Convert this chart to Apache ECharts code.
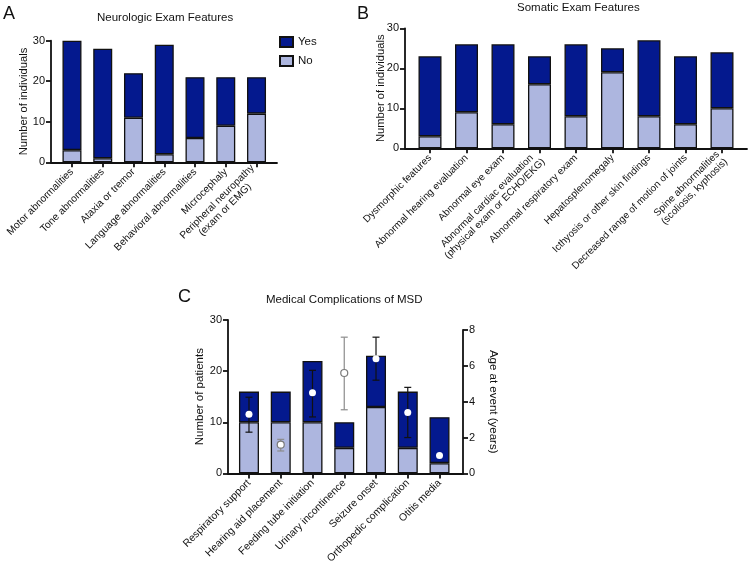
<!DOCTYPE html>
<html>
<head>
<meta charset="utf-8">
<script src="https://cdn.jsdelivr.net/npm/echarts@6/dist/echarts.min.js"></script>
<style>
html, body { margin: 0; padding: 0; background: #fff; }
#chart { width: 750px; height: 567px; }
</style>
</head>
<body>
<div id="chart"></div>
<script>
const FONT = '"Liberation Sans", Arial, Helvetica, sans-serif';
const DARK = '#04198e';
const LIGHT = '#adb6df';
const INK = '#111';

// A - neurologic exam
const neuroCats = ['Motor abnormalities', 'Tone abnormalities', 'Ataxia or tremor', 'Language abnormalities',
  'Behavioral abnormalities', 'Microcephaly', 'Peripheral neuropathy\n(exam or EMG)'];
const neuroYes = [27, 27, 11, 27, 15, 12, 9];
const neuroNo = [3, 1, 11, 2, 6, 9, 12];

// B - somatic exam
const somaticCats = ['Dysmorphic features', 'Abnormal hearing evaluation', 'Abnormal eye exam',
  'Abnormal cardiac evaluation\n(physical exam or ECHO/EKG)', 'Abnormal respiratory exam', 'Hepatosplenomegaly',
  'Icthyosis or other skin findings', 'Decreased range of motion of joints', 'Spine abnormalities\n(scoliosis, kyphosis)'];
const somaticYes = [20, 17, 20, 7, 18, 6, 19, 17, 14];
const somaticNo = [3, 9, 6, 16, 8, 19, 8, 6, 10];

// C - medical complications
const complCats = ['Respiratory support', 'Hearing aid placement', 'Feeding tube initiation', 'Urinary incontinence',
  'Seizure onset', 'Orthopedic complication', 'Otitis media'];
const complYes = [6, 6, 12, 5, 10, 11, 9];
const complNo = [10, 10, 10, 5, 13, 5, 2];
const ageMean = [3.3, 1.6, 4.5, 5.6, 6.4, 3.4, 1.0];
const ageLow = [2.3, 1.25, 3.15, 3.55, 5.2, 2.0, null];
const ageHigh = [4.25, 1.9, 5.75, 7.6, 7.6, 4.8, null];
const ageHollow = [false, true, false, true, false, false, false];

const countTicks = [0, 10, 20, 30];
const ageTicks = [0, 2, 4, 6, 8];

const chart = echarts.init(document.getElementById('chart'));

const lineStyle = { color: INK, width: 1.8 };

const labelFmt = v => v.split('\n').map(s => '{c|' + s + '}').join('\n');

const catAxis = (gridIndex, data, fontSize) => ({
  type: 'category', gridIndex, data,
  axisLine: { show: false },
  axisTick: { show: true, alignWithLabel: true, length: 5, lineStyle },
  axisLabel: {
    rotate: 45, margin: 8, interval: 0, color: INK, fontFamily: FONT, fontSize,
    formatter: labelFmt,
    rich: { c: { align: 'center', fontFamily: FONT, fontSize, color: INK, lineHeight: fontSize + 1 } }
  },
  splitLine: { show: false }
});

const lineAxis = gridIndex => ({
  type: 'value', gridIndex, min: 0, max: 1,
  axisLine: { show: true, lineStyle },
  axisTick: { show: false }, axisLabel: { show: false }, splitLine: { show: false }
});

const valAxis = (gridIndex, ticks, offset, name, nameSize, nameGap, position) => ({
  type: 'value', gridIndex, position: position || 'left', offset,
  min: ticks[0], max: ticks[ticks.length - 1], interval: ticks[1] - ticks[0],
  axisLine: { show: true, lineStyle },
  axisTick: { show: true, length: 5, lineStyle },
  axisLabel: { color: INK, fontFamily: FONT, fontSize: 11, margin: 6 },
  splitLine: { show: false },
  name, nameLocation: 'middle', nameGap, nameMoveOverlap: false,
  nameRotate: position === 'right' ? -90 : 90,
  nameTextStyle: { color: INK, fontFamily: FONT, fontSize: nameSize }
});

const hidden = gridIndex => ({ type: 'value', gridIndex, show: false, min: 0, max: 1 });

const barItem = color => ({ color, borderColor: INK, borderWidth: 1.3 });

const stacked = (name, stack, xi, data, color, width) => ({
  name, type: 'bar', stack, xAxisIndex: xi, yAxisIndex: xi, data, barWidth: width,
  itemStyle: barItem(color), emphasis: { disabled: true }
});

const titleText = (text, left, top, fontSize) => ({
  text, left, top, padding: 0,
  textStyle: { fontFamily: FONT, fontSize, fontWeight: 'normal', color: INK }
});

chart.setOption({
  animation: false,
  backgroundColor: '#fff',
  title: [
    titleText('A', 3, 5, 18),
    titleText('Neurologic Exam Features', 97, 12, 11.5),
    titleText('B', 357, 5, 18),
    titleText('Somatic Exam Features', 517, 2, 11.5),
    titleText('C', 178, 288, 18),
    titleText('Medical Complications of MSD', 266, 294, 11.5)
  ],
  legend: {
    data: ['Yes', 'No'], orient: 'vertical', left: 274, top: 31,
    itemWidth: 13, itemHeight: 10, itemGap: 7, icon: 'rect',
    textStyle: { fontFamily: FONT, fontSize: 11.5, color: INK },
    selectedMode: false
  },
  grid: [
    { left: 56.6, top: 40.7, width: 215.3, height: 121.6 },
    { left: 51, top: 40.7, width: 226, height: 121.6 },
    { left: 411.75, top: 28.3, width: 328.5, height: 120 },
    { left: 405, top: 28.3, width: 342, height: 120 },
    { left: 233.1, top: 320, width: 222.3, height: 153.4 },
    { left: 233.1, top: 330, width: 222.3, height: 143.4 },
    { left: 228, top: 320, width: 235, height: 153.4 }
  ],
  xAxis: [
    catAxis(0, neuroCats, 10.2),
    lineAxis(1),
    catAxis(2, somaticCats, 10),
    lineAxis(3),
    catAxis(4, complCats, 10.4),
    { type: 'category', gridIndex: 5, data: complCats, show: false },
    lineAxis(6)
  ],
  yAxis: [
    valAxis(0, countTicks, 5.6, 'Number of individuals', 11.2, 22),
    hidden(1),
    valAxis(2, countTicks, 6.75, 'Number of individuals', 11.2, 19),
    hidden(3),
    valAxis(4, countTicks, 5.1, 'Number of patients', 11.5, 22),
    valAxis(5, ageTicks, 7.6, 'Age at event (years)', 11.5, 24, 'right'),
    hidden(6)
  ],
  series: [
    stacked('No', 'a', 0, neuroNo, LIGHT, 19),
    stacked('Yes', 'a', 0, neuroYes, DARK, 19),
    stacked('somaticNo', 'b', 2, somaticNo, LIGHT, 23),
    stacked('somaticYes', 'b', 2, somaticYes, DARK, 23),
    stacked('complNo', 'c', 4, complNo, LIGHT, 20),
    stacked('complYes', 'c', 4, complYes, DARK, 20),
    {
      type: 'custom', xAxisIndex: 5, yAxisIndex: 5, z: 5,
      data: complCats.map((c, i) => [i, ageLow[i], ageHigh[i], ageHollow[i] ? 1 : 0])
        .filter(d => d[1] != null),
      renderItem: (params, api) => {
        const lo = api.coord([api.value(0), api.value(1)]);
        const hi = api.coord([api.value(0), api.value(2)]);
        const stroke = api.value(3) ? '#8c8c8c' : INK;
        const st = { stroke, lineWidth: 1.2 };
        const cap = 3.5;
        return {
          type: 'group',
          children: [
            { type: 'line', shape: { x1: lo[0], y1: lo[1], x2: hi[0], y2: hi[1] }, style: st },
            { type: 'line', shape: { x1: lo[0] - cap, y1: lo[1], x2: lo[0] + cap, y2: lo[1] }, style: st },
            { type: 'line', shape: { x1: hi[0] - cap, y1: hi[1], x2: hi[0] + cap, y2: hi[1] }, style: st }
          ]
        };
      }
    },
    {
      type: 'scatter', xAxisIndex: 5, yAxisIndex: 5, z: 6, symbol: 'circle', symbolSize: 7,
      data: ageMean.map((v, i) => ({
        value: [i, v],
        itemStyle: ageHollow[i]
          ? { color: '#fff', borderColor: '#7a7a7a', borderWidth: 1.2, opacity: 1 }
          : { color: '#fff', borderWidth: 0, opacity: 1 }
      })),
      itemStyle: { opacity: 1 },
      emphasis: { disabled: true }
    }
  ]
});
</script>
</body>
</html>
